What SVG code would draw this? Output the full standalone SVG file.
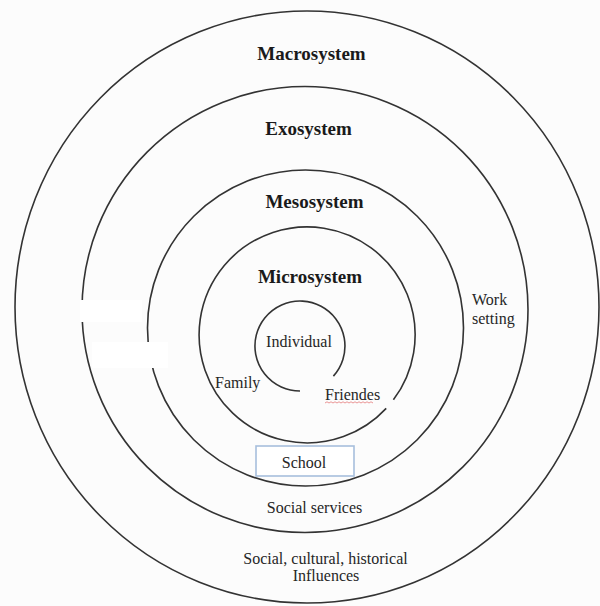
<svg xmlns="http://www.w3.org/2000/svg" width="600" height="606" viewBox="0 0 600 606">
  <style>
    .ring { fill: none; stroke: #333333; stroke-width: 1.6; }
    .title { font-family: "Liberation Serif", "Times New Roman", serif; font-weight: bold; font-size: 19px; fill: #1a1a1a; text-anchor: middle; }
    .label { font-family: "Liberation Serif", "Times New Roman", serif; font-size: 16px; fill: #262626; }
    .mid { text-anchor: middle; }
    .mask { fill: #ffffff; stroke: none; }
  </style>

  <!-- page -->
  <rect x="0" y="0" width="600" height="606" fill="#fcfcfc"/>

  <!-- nested system rings -->
  <g id="macrosystem">
    <ellipse class="ring" cx="307" cy="307" rx="292" ry="296"/>
    <text class="title" x="311.5" y="60">Macrosystem</text>
    <text class="label mid" x="325.5" y="564" font-size="16.5">Social, cultural, historical</text>
    <text class="label mid" x="326" y="581">Influences</text>
  </g>

  <g id="exosystem">
    <circle class="ring" cx="305" cy="309.5" r="223"/>
    <text class="title" x="308.5" y="135">Exosystem</text>
    <text class="label mid" x="314.5" y="513" font-size="16.5">Social services</text>
  </g>

  <g id="mesosystem">
    <circle class="ring" cx="305.5" cy="328" r="158"/>
    <text class="title" x="314.5" y="208">Mesosystem</text>
    <text class="label" x="472" y="305" font-size="15">Work</text>
    <text class="label" x="472" y="324" font-size="15">setting</text>
  </g>

  <g id="microsystem">
    <path class="ring" d="M 386.2 408.4 A 108 108 0 1 1 393.4 399.8"/>
    <text class="title" x="310" y="283">Microsystem</text>
    <text class="label" x="215" y="388" font-size="16.5">Family</text>
    <text class="label" x="325" y="400" font-size="14" fill="#5a3444">Friendes</text>
    <path d="M 325 403 l 2 -1.2 l 2 1.2 l 2 -1.2 l 2 1.2 l 2 -1.2 l 2 1.2 l 2 -1.2 l 2 1.2 l 2 -1.2 l 2 1.2 l 2 -1.2 l 2 1.2 l 2 -1.2 l 2 1.2 l 2 -1.2 l 2 1.2 l 2 -1.2 l 2 1.2 l 2 -1.2 l 2 1.2 l 2 -1.2 l 2 1.2 l 2 -1.2 l 2 1.2" fill="none" stroke="#e05a5a" stroke-width="0.8" opacity="0.8"/>
  </g>

  <g id="individual">
    <path class="ring" d="M 300 391 A 45 45 0 1 1 333.4 376.1"/>
    <text class="label mid" x="299" y="347">Individual</text>
  </g>

  <g id="school">
    <rect x="256" y="446" width="98" height="30" fill="#ffffff" stroke="#a7bfdc" stroke-width="1.6"/>
    <text class="label mid" x="304" y="468" font-size="15">School</text>
  </g>

  <!-- blank patches lying over the left side of the rings -->
  <g id="patches">
    <rect class="mask" x="80" y="300" width="62" height="22"/>
    <rect class="mask" x="92" y="342" width="76" height="26"/>
  </g>

  <g id="connectors"/>
</svg>
